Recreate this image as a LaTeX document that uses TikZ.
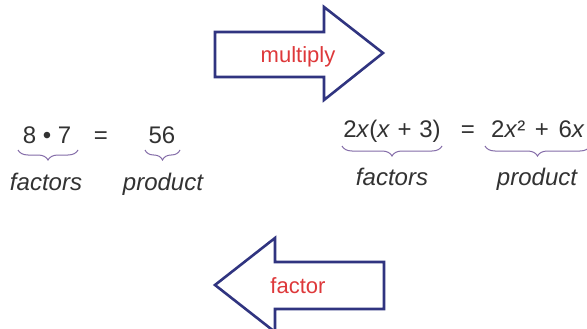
\documentclass[tikz,border=0pt]{standalone}
\usepackage{fontspec}
\setmainfont{Liberation Sans}
\usetikzlibrary{decorations.pathreplacing}
\definecolor{arrowblue}{RGB}{48,52,128}
\definecolor{wordred}{RGB}{222,56,58}
\definecolor{bracepurple}{RGB}{132,108,168}
\definecolor{textgray}{RGB}{50,50,50}
\begin{document}
\begin{tikzpicture}[x=1pt,y=-1pt,line join=miter,
	bigarrow/.style={draw=arrowblue,line width=2.6pt,fill=white},
	verb/.style={text=wordred,font=\fontsize{22}{24}\selectfont,anchor=base},
	expr/.style={text=textgray,font=\fontsize{24}{26}\selectfont,anchor=base,inner sep=0pt},
	tag/.style={text=textgray,font=\fontsize{24}{26}\selectfont\itshape,anchor=base,inner sep=0pt},
	brc/.style={draw=bracepurple,line width=1pt,decorate,decoration={brace,mirror,amplitude=10pt}}]
	\clip (0,0) rectangle (587,329);
	\fill[white] (0,0) rectangle (587,329);
	% multiply arrow
	\draw[bigarrow] (215,32) -- (324,32) -- (324,7) -- (383,53) -- (324,100) -- (324,77) -- (215,77) -- cycle;
	\node[verb] (mult) at (298,63) {multiply};
	% factor arrow
	\draw[bigarrow] (215,285) -- (275,238) -- (275,262) -- (384,262) -- (384,309) -- (275,309) -- (275,332) -- cycle;
	\node[verb] (fact) at (298,293) {factor};
	% numbers
	\node[expr] (numf) at (47,143) {8 • 7};
	\node[expr] (numeq) at (101,143) {=};
	\node[expr] (nump) at (162,143) {56};
	\draw[brc] (18,150) -- (78,150);
	\draw[brc] (145,150) -- (180,150);
	\node[tag] (numft) at (46,190) {factors};
	\node[tag] (numpt) at (163,190) {product};
	% polynomial
	\node[expr] (polf) at (392,138) {2\textit{x}(\textit{x}\kern1pt{} + \kern1pt3)};
	\node[expr] (poleq) at (468,138) {=};
	\node[expr,anchor=base west] (polp) at (491,138) {2\textit{x}²\kern3pt{} + \kern3pt6\textit{x}};
	\draw[brc] (342,146) -- (442,146);
	\draw[brc] (485,146) -- (590,146);
	\node[tag] (polft) at (392,185) {factors};
	\node[tag] (polpt) at (537,185) {product};
\end{tikzpicture}
\end{document}
